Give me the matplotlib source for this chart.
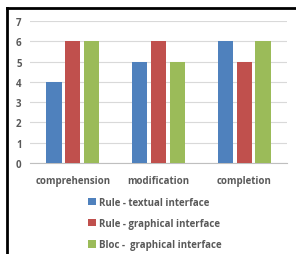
import matplotlib
matplotlib.use("Agg")
from matplotlib import pyplot as plt
from matplotlib.lines import Line2D
import numpy as np

categories = ["comprehension", "modification", "completion"]
series_names = ["Rule - textual interface", "Rule - graphical interface", "Bloc -  graphical interface"]
rule_textual = [4, 5, 6]
rule_graphical = [6, 6, 5]
bloc_graphical = [6, 5, 6]
yticks = [0, 1, 2, 3, 4, 5, 6, 7]

colors = ["#4F81BD", "#C0504D", "#9BBB59"]
txt = "#595959"
plt.rcParams['font.family'] = ['Open Sans', 'DejaVu Sans']

fig = plt.figure(figsize=(2.96, 2.55), dpi=100)
ax = fig.add_axes([0.101, 0.357, 0.869, 0.557])

x = np.arange(len(categories))
w = 0.18
step = 0.22
for i, (vals, name) in enumerate(zip([rule_textual, rule_graphical, bloc_graphical], series_names)):
    ax.bar(x + (i - 1) * step, vals, width=w, color=colors[i], label=name, zorder=3)

ax.set_xlim(-0.5, 2.5)
ax.set_ylim(0, 7)
ax.set_yticks(yticks)
ax.set_xticks(x)
ax.set_xticklabels(categories, fontsize=7, color=txt, fontweight='bold')
ax.set_yticklabels([str(t) for t in yticks], fontsize=7, color=txt, fontweight='bold')
ax.tick_params(length=0, pad=6)
ax.tick_params(axis='x', pad=9)
ax.grid(axis='y', color="#D9D9D9", linewidth=0.8, zorder=0)
for s in ["top", "right", "left"]:
    ax.spines[s].set_visible(False)
ax.spines["bottom"].set_color("#BFBFBF")

# outer frame: only top and left edges are visible in the crop
top = 1 - 9 / 255
left = 7 / 296
fig.lines.append(Line2D([left, 1], [top, top], transform=fig.transFigure, color="black", linewidth=2))
fig.lines.append(Line2D([left, left], [0, top], transform=fig.transFigure, color="black", linewidth=2))

leg = fig.legend(loc="upper left", bbox_to_anchor=(84 / 296, 1 - 194 / 255), frameon=False,
                 fontsize=7, handlelength=0.8, handleheight=0.8, handletextpad=0.3,
                 labelspacing=1.05, borderaxespad=0)
for t in leg.get_texts():
    t.set_color(txt)
    t.set_fontweight('bold')

fig.savefig("out.png", dpi=100)
